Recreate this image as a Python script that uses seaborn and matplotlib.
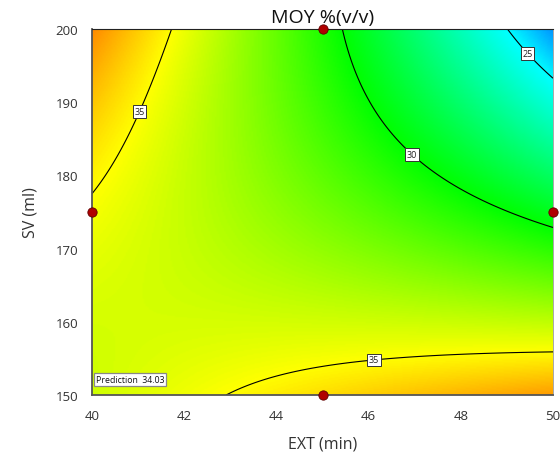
#Importing Libraries and default settings
import numpy as np
import matplotlib
matplotlib.use("Agg")
import matplotlib.pyplot as plt
import seaborn as sns
import pandas as pd
from matplotlib.colors import LinearSegmentedColormap

sns.set_style("white")
plt.rcParams["font.family"] = ["Open Sans", "DejaVu Sans"]

#Factor ranges (actual units)
ext_range = [40, 50]
sv_range = [150, 200]

#Quadratic model in coded factors A=(EXT-45)/5, B=(SV-175)/25
coef_names = ["Intercept", "A", "B", "AB", "A2", "B2"]
coef_values = [32.29, -2.70, -2.52, -4.14, -0.16, 0.82]

#Design points shown on the plot
design_ext = [45, 40, 50, 45]
design_sv = [200, 175, 175, 150]

#Contour levels and label positions
contour_levels = [25, 30, 35]
label_pos = [(49.5, 197.0), (47.0, 183.2), (41.0, 188.8), (46.1, 155.5)]

#Prediction flag
pred_ext, pred_sv, pred_value = 40, 150, 34.03

#Colour scale nodes (response value -> colour)
color_values = [21.5, 25, 30, 35, 40]
color_list = ["#0000ff", "#00ffff", "#00ff00", "#ffff00", "#ff0000"]

b = dict(zip(coef_names, coef_values))
ext = np.linspace(ext_range[0], ext_range[1], 300)
sv = np.linspace(sv_range[0], sv_range[1], 300)
EXT, SV = np.meshgrid(ext, sv)
A = (EXT - 45) / 5
B = (SV - 175) / 25
Z = (b["Intercept"] + b["A"] * A + b["B"] * B + b["AB"] * A * B
     + b["A2"] * A ** 2 + b["B2"] * B ** 2)

vmin, vmax = color_values[0], color_values[-1]
nodes = [(v - vmin) / (vmax - vmin) for v in color_values]
cmap = LinearSegmentedColormap.from_list("de", list(zip(nodes, color_list)))

fig = plt.figure(figsize=(5.6, 4.56), dpi=100)
ax = fig.add_axes([0.1643, 0.1316, 0.8232, 0.8026])

ax.imshow(Z, extent=[40, 50, 150, 200], origin="lower", aspect="auto",
          cmap=cmap, vmin=vmin, vmax=vmax, interpolation="bilinear")
cs = ax.contour(EXT, SV, Z, levels=contour_levels, colors="black", linewidths=0.8)
labels = ax.clabel(cs, fmt="%d", fontsize=6.5, inline=False, manual=label_pos)
for t in labels:
    t.set_rotation(0)
    t.set_color("#222222")
    t.set_zorder(4)
    t.set_bbox(dict(facecolor="white", edgecolor="#333333", linewidth=0.7, pad=1.3))

pts = pd.DataFrame({"EXT": design_ext, "SV": design_sv})
sns.scatterplot(data=pts, x="EXT", y="SV", ax=ax, color="#b00000",
                edgecolor="#600000", s=45, linewidth=0.6, zorder=5, clip_on=False)

ax.text(pred_ext + 0.08, pred_sv + 2.1, f"Prediction  {pred_value:.2f}",
        fontsize=6.3, color="#111111", va="center", ha="left", zorder=6,
        bbox=dict(facecolor="white", edgecolor="#888888", linewidth=0.9, pad=1.6))

ax.set_xlim(40, 50)
ax.set_ylim(150, 200)
ax.set_xticks([40, 42, 44, 46, 48, 50])
ax.set_yticks([150, 160, 170, 180, 190, 200])
ax.tick_params(axis="both", direction="out", length=7, width=1.2,
               colors="#555555", labelsize=9.5, labelcolor="#333333", pad=3)
for side in ["left", "bottom"]:
    ax.spines[side].set_color("#555555")
    ax.spines[side].set_linewidth(1.3)
ax.spines["top"].set_color("#222222")
ax.spines["top"].set_linewidth(0.8)
ax.spines["right"].set_color("#999999")
ax.spines["right"].set_linewidth(0.6)

ax.set_title("MOY %(v/v)", fontsize=14, color="#111111", pad=5)
ax.set_xlabel("EXT (min)", fontsize=11.5, color="#333333", labelpad=10)
ax.set_ylabel("SV (ml)", fontsize=11.5, color="#333333", labelpad=12)

fig.savefig("out.png", dpi=100)
plt.close()
